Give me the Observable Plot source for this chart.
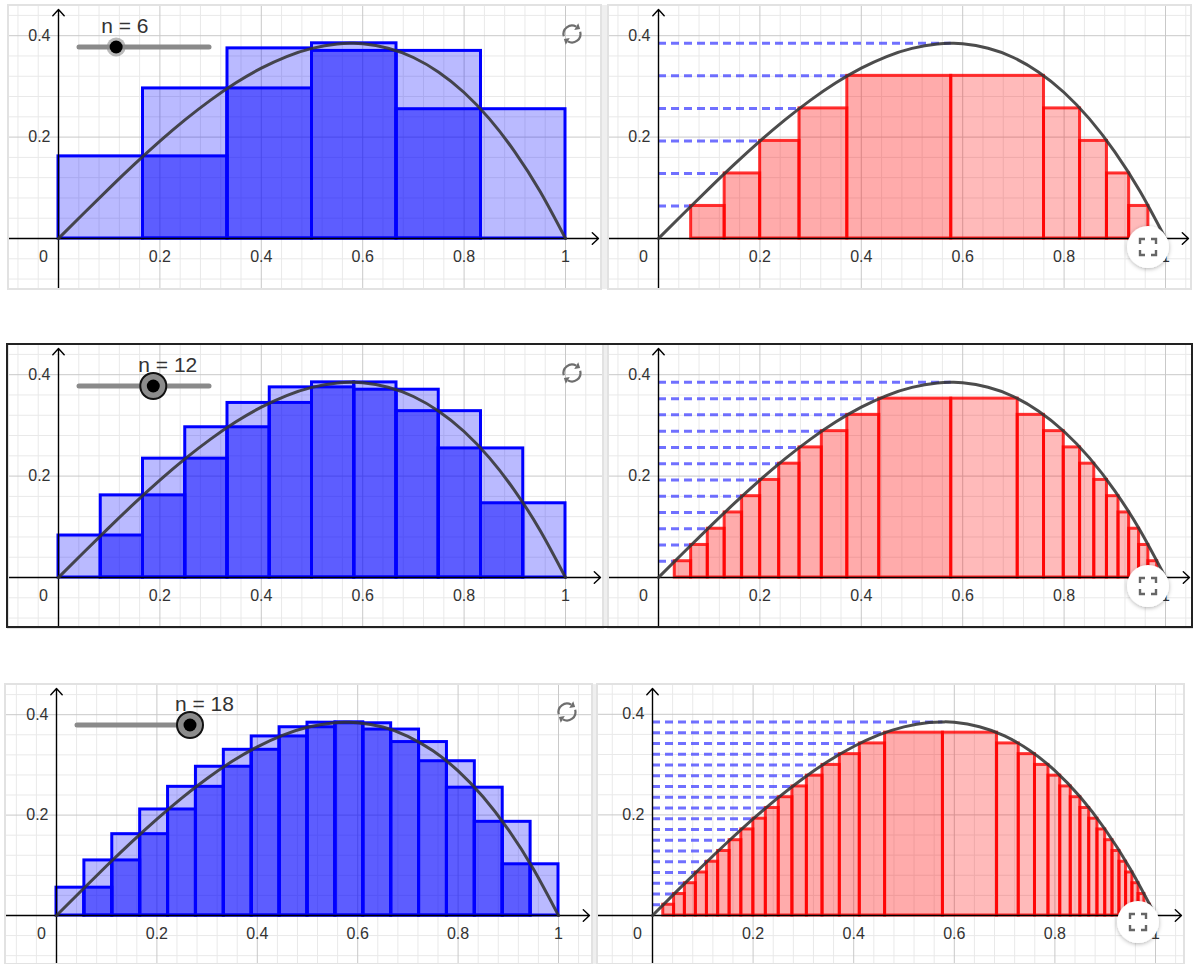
<!DOCTYPE html>
<html><head><meta charset="utf-8">
<script src="https://cdn.jsdelivr.net/npm/d3@7"></script>
<script src="https://cdn.jsdelivr.net/npm/@observablehq/plot@0.6"></script>
<style>
body{margin:0;background:#fff;font-family:"Liberation Sans",Arial,sans-serif;}
#root{position:relative;width:1195px;height:964px;overflow:hidden;background:#fff;}
.panel{position:absolute;overflow:hidden;background:#fff;outline:2px solid #e2e2e2;outline-offset:-1px;}
.panel svg{display:block;}
.sep{position:absolute;background:#efefef;border-left:1px solid #dcdcdc;border-right:1px solid #dcdcdc;box-sizing:border-box;}
#overlay{position:absolute;left:0;top:0;pointer-events:none;}
</style></head><body><div id="root"></div>
<script>
// ---------------- data ----------------
const nValues = [6, 12, 18];
const xTickValues = [0.2, 0.4, 0.6, 0.8, 1];
const xTickLabels = ["0.2", "0.4", "0.6", "0.8", "1"];
const yTickValues = [0.2, 0.4];
const yTickLabels = ["0.2", "0.4"];

// f(x) curve
const curveX = [0, 0.05, 0.1, 0.15, 0.2, 0.25, 0.3, 0.35, 0.4, 0.45, 0.5, 0.55, 0.5774, 0.6, 0.65, 0.7, 0.75, 0.8, 0.85, 0.9, 0.95, 1];
const curveY = [0, 0.0499, 0.099, 0.1466, 0.192, 0.2344, 0.273, 0.3071, 0.336, 0.3589, 0.375, 0.3836, 0.3849, 0.384, 0.3754, 0.357, 0.3281, 0.288, 0.2359, 0.171, 0.0926, 0];

// left panels: upper / lower sums over n equal sub-intervals
const upper6 = [0.162, 0.296, 0.375, 0.385, 0.370, 0.255];
const lower6 = [0, 0.162, 0.296, 0.370, 0.255, 0];
const upper12 = [0.0828, 0.1620, 0.2344, 0.2963, 0.3443, 0.375, 0.3849, 0.3848, 0.3704, 0.3281, 0.2546, 0.1464];
const lower12 = [0, 0.0828, 0.1620, 0.2344, 0.2963, 0.3443, 0.375, 0.3704, 0.3281, 0.2546, 0.1464, 0];
const upper18 = [0.0554, 0.1097, 0.1620, 0.2112, 0.2563, 0.2963, 0.3301, 0.3567, 0.375, 0.3841, 0.3849, 0.3829, 0.3704, 0.3455, 0.3073, 0.2546, 0.1866, 0.1020];
const lower18 = [0, 0.0554, 0.1097, 0.1620, 0.2112, 0.2563, 0.2963, 0.3301, 0.3567, 0.375, 0.3829, 0.3704, 0.3455, 0.3073, 0.2546, 0.1866, 0.1020, 0];

// right panels: horizontal levels, and where the curve meets each level (left / right branch)
const levels6 = [0.0642, 0.1283, 0.1925, 0.2566, 0.3208, 0.3849];
const leftEdges6 = [0.0644, 0.1305, 0.2005, 0.2781, 0.3724, 0.5774];
const rightEdges6 = [0.9662, 0.9283, 0.8846, 0.8315, 0.7604, 0.5774];
const levels12 = [0.0321, 0.0642, 0.0962, 0.1283, 0.1604, 0.1925, 0.2245, 0.2566, 0.2887, 0.3208, 0.3528, 0.3849];
const leftEdges12 = [0.0321, 0.0644, 0.0972, 0.1305, 0.1649, 0.2005, 0.2380, 0.2781, 0.3221, 0.3724, 0.4354, 0.5774];
const rightEdges12 = [0.9836, 0.9662, 0.9479, 0.9283, 0.9073, 0.8846, 0.8595, 0.8315, 0.7993, 0.7604, 0.7085, 0.5774];
const levels18 = [0.0214, 0.0428, 0.0642, 0.0855, 0.1069, 0.1283, 0.1497, 0.1711, 0.1925, 0.2138, 0.2352, 0.2566, 0.2780, 0.2994, 0.3208, 0.3421, 0.3635, 0.3849];
const leftEdges18 = [0.0214, 0.0429, 0.0644, 0.0862, 0.1082, 0.1305, 0.1533, 0.1766, 0.2005, 0.2253, 0.2510, 0.2781, 0.3069, 0.3380, 0.3724, 0.4121, 0.4624, 0.5774];
const rightEdges18 = [0.9891, 0.9779, 0.9662, 0.9541, 0.9415, 0.9283, 0.9145, 0.9000, 0.8846, 0.8682, 0.8506, 0.8315, 0.8106, 0.7872, 0.7604, 0.7281, 0.6850, 0.5774];

// ---------------- layout ----------------
const rowsLayout = [
  {top: 5, h: 284, L: {x: 8, w: 593, ox: 50, oy: 233, s: 507}, R: {x: 608, w: 583, ox: 50, oy: 233, s: 507},
   slider: {x1: 79, x2: 209, y: 47, max: 21, big: false}, refresh: [572, 34], full: [1148, 247], sep: [601, 608]},
  {top: 344, h: 284, L: {x: 8, w: 595, ox: 50, oy: 233, s: 507}, R: {x: 608, w: 584, ox: 50, oy: 233, s: 507},
   slider: {x1: 79, x2: 209, y: 386, max: 21, big: true}, refresh: [572, 373], full: [1148, 586], sep: [603, 608]},
  {top: 684, h: 280, L: {x: 5, w: 587, ox: 51, oy: 231, s: 502}, R: {x: 597, w: 587, ox: 55, oy: 231, s: 503},
   slider: {x1: 77, x2: 190, y: 725, max: 18, big: true}, refresh: [567, 712], full: [1138, 922], sep: [592, 597]}
];

const uppers = [upper6, upper12, upper18];
const lowers = [lower6, lower12, lower18];
const levelsAll = [levels6, levels12, levels18];
const leftsAll = [leftEdges6, leftEdges12, leftEdges18];
const rightsAll = [rightEdges6, rightEdges12, rightEdges18];
const curve = curveX.map((x, i) => ({x, y: curveY[i]}));
const FONT = "Liberation Sans, Arial, sans-serif";

function frameMarks(cfg, h) {
  const {w, ox, oy, s} = cfg;
  const xDom = [-ox / s, (w - ox) / s];
  const yDom = [(oy - h) / s, oy / s];
  const step = 0.04;
  const gx = d3.range(Math.ceil(xDom[0] / step), Math.floor(xDom[1] / step) + 1);
  const gy = d3.range(Math.ceil(yDom[0] / step), Math.floor(yDom[1] / step) + 1);
  const minorX = gx.filter(i => i % 5 !== 0).map(i => i * step);
  const majorX = gx.filter(i => i % 5 === 0 && i !== 0).map(i => i * step);
  const minorY = gy.filter(i => i % 5 !== 0).map(i => i * step);
  const majorY = gy.filter(i => i % 5 === 0 && i !== 0).map(i => i * step);
  const grid = [
    Plot.ruleX(minorX, {stroke: "#e9e9e9", strokeWidth: 1}),
    Plot.ruleY(minorY, {stroke: "#e9e9e9", strokeWidth: 1}),
    Plot.ruleX(majorX, {stroke: "#c9c9c9", strokeWidth: 1}),
    Plot.ruleY(majorY, {stroke: "#c9c9c9", strokeWidth: 1})
  ];
  const xEnd = (w - 3 - ox) / s;
  const yEnd = (oy - 4) / s;
  const axes = [
    Plot.arrow([0], {x1: xDom[0], y1: 0, x2: xEnd, y2: 0, stroke: "#000", strokeWidth: 1.4, headLength: 9, headAngle: 85}),
    Plot.arrow([0], {x1: 0, y1: yDom[0], x2: 0, y2: yEnd, stroke: "#000", strokeWidth: 1.4, headLength: 9, headAngle: 85})
  ];
  const labels = [
    Plot.text(xTickValues, {x: d => d, y: 0, text: (d, i) => xTickLabels[i], dy: 18, fontSize: 16, fill: "#333", fontFamily: FONT}),
    Plot.text(yTickValues, {x: 0, y: d => d, text: (d, i) => yTickLabels[i], dx: -8, textAnchor: "end", fontSize: 16, fill: "#333", fontFamily: FONT}),
    Plot.text(["0"], {x: 0, y: 0, text: d => d, dx: -15, dy: 18, fontSize: 16, fill: "#333", fontFamily: FONT})
  ];
  return {xDom, yDom, grid, axes, labels};
}

function curveMark() {
  return Plot.line(curve, {x: "x", y: "y", curve: "natural", stroke: "#333", strokeWidth: 3, strokeOpacity: 0.88});
}

function leftPanel(cfg, h, r) {
  const n = nValues[r];
  const bars = uppers[r].map((u, i) => ({x1: i / n, x2: (i + 1) / n, up: u, lo: lowers[r][i]}));
  const F = frameMarks(cfg, h);
  return Plot.plot({
    width: cfg.w, height: h, margin: 0,
    x: {domain: F.xDom, axis: null}, y: {domain: F.yDom, axis: null},
    style: {background: "transparent", fontFamily: FONT},
    marks: [
      ...F.grid,
      Plot.rect(bars, {x1: "x1", x2: "x2", y1: 0, y2: "up", fill: "#0000ff", fillOpacity: 0.27, stroke: "#0000ff", strokeWidth: 3}),
      Plot.rect(bars, {x1: "x1", x2: "x2", y1: 0, y2: "lo", fill: "#0000ff", fillOpacity: 0.5, stroke: "#0000ff", strokeWidth: 3}),
      ...F.axes,
      curveMark(),
      ...F.labels
    ]
  });
}

function rightPanel(cfg, h, r) {
  const lv = levelsAll[r], L = leftsAll[r], R = rightsAll[r];
  const lefts = [], rights = [];
  for (let k = 0; k < lv.length - 1; k++) {
    lefts.push({x1: L[k], x2: L[k + 1], h: lv[k]});
    rights.push({x1: R[k + 1], x2: R[k], h: lv[k]});
  }
  const dashes = lv.map((y, k) => ({y, x2: L[k]}));
  const F = frameMarks(cfg, h);
  return Plot.plot({
    width: cfg.w, height: h, margin: 0,
    x: {domain: F.xDom, axis: null}, y: {domain: F.yDom, axis: null},
    style: {background: "transparent", fontFamily: FONT},
    marks: [
      ...F.grid,
      Plot.ruleY(dashes, {y: "y", x1: 0, x2: "x2", stroke: "#4040ff", strokeOpacity: 0.75, strokeWidth: 3, strokeDasharray: "8,5"}),
      Plot.rect(lefts, {x1: "x1", x2: "x2", y1: 0, y2: "h", fill: "#ff0000", fillOpacity: 0.33, stroke: "#ff0000", strokeOpacity: 0.8, strokeWidth: 3}),
      Plot.rect(rights, {x1: "x1", x2: "x2", y1: 0, y2: "h", fill: "#ff0000", fillOpacity: 0.27, stroke: "#ff0000", strokeOpacity: 0.8, strokeWidth: 3}),
      ...F.axes,
      curveMark(),
      ...F.labels
    ]
  });
}

const root = document.getElementById("root");

// row 2 black frame
const frame2 = document.createElement("div");
Object.assign(frame2.style, {position: "absolute", left: "6px", top: "343px", width: "1187px", height: "285px", border: "2px solid #222", boxSizing: "border-box"});

rowsLayout.forEach((row, r) => {
  const sep = document.createElement("div");
  sep.className = "sep";
  Object.assign(sep.style, {left: row.sep[0] + "px", top: row.top + "px", width: (row.sep[1] - row.sep[0]) + "px", height: row.h + "px"});
  root.appendChild(sep);
  [["L", leftPanel], ["R", rightPanel]].forEach(([side, fn]) => {
    const cfg = row[side];
    const div = document.createElement("div");
    div.className = "panel";
    Object.assign(div.style, {left: cfg.x + "px", top: row.top + "px", width: cfg.w + "px", height: row.h + "px"});
    div.appendChild(fn(cfg, row.h, r));
    root.appendChild(div);
  });
});
root.appendChild(frame2);

// ---------------- overlay: sliders, icons ----------------
const ov = d3.select(root).append("svg").attr("id", "overlay").attr("width", 1195).attr("height", 964);
const defs = ov.append("defs");
const f = defs.append("filter").attr("id", "sh").attr("x", "-50%").attr("y", "-50%").attr("width", "200%").attr("height", "200%");
f.append("feDropShadow").attr("dx", 0).attr("dy", 1).attr("stdDeviation", 2).attr("flood-color", "#000").attr("flood-opacity", 0.3);

function refreshIcon(cx, cy) {
  const g = ov.append("g").attr("fill", "none").attr("stroke", "#6e6e6e").attr("stroke-width", 2.2);
  const r = 8.5;
  const arc = (a0, a1) => {
    const p = a => [cx + r * Math.cos(a * Math.PI / 180), cy + r * Math.sin(a * Math.PI / 180)];
    const [x0, y0] = p(a0), [x1, y1] = p(a1);
    g.append("path").attr("d", `M${x0},${y0} A${r},${r} 0 0 1 ${x1},${y1}`);
    const t = (a1 + 90) * Math.PI / 180;
    const tx = Math.cos(t), ty = Math.sin(t), nx = Math.cos(a1 * Math.PI / 180), ny = Math.sin(a1 * Math.PI / 180);
    const tip = [x1 + tx * 4.5, y1 + ty * 4.5];
    g.append("path").attr("fill", "#6e6e6e").attr("stroke", "none")
      .attr("d", `M${tip[0]},${tip[1]} L${x1 + nx * 4},${y1 + ny * 4} L${x1 - nx * 4},${y1 - ny * 4} Z`);
  };
  arc(165, 300);
  arc(345, 120);
}

function fullIcon(cx, cy) {
  ov.append("circle").attr("cx", cx).attr("cy", cy).attr("r", 21).attr("fill", "#fff").attr("filter", "url(#sh)");
  const g = ov.append("g").attr("fill", "none").attr("stroke", "#666").attr("stroke-width", 2.4);
  const d = 8, l = 5;
  [[-1, -1], [1, -1], [-1, 1], [1, 1]].forEach(([sx, sy]) => {
    const x = cx + sx * d, y = cy + sy * d;
    g.append("path").attr("d", `M${x},${y - sy * l} L${x},${y} L${x - sx * l},${y}`);
  });
}

rowsLayout.forEach((row, r) => {
  const sl = row.slider;
  const n = nValues[r];
  const sx = d3.scaleLinear().domain([0, sl.max]).range([sl.x1, sl.x2]);
  const kx = sx(n);
  ov.append("line").attr("x1", sl.x1).attr("x2", sl.x2).attr("y1", sl.y).attr("y2", sl.y)
    .attr("stroke", "#8a8a8a").attr("stroke-width", 5).attr("stroke-linecap", "round");
  ov.append("text").attr("x", kx - 15).attr("y", sl.y - 14).attr("font-size", 21).attr("fill", "#333")
    .attr("font-family", FONT).text(`n = ${n}`);
  if (sl.big) {
    ov.append("circle").attr("cx", kx).attr("cy", sl.y).attr("r", 13).attr("fill", "#8c8c8c").attr("stroke", "#111").attr("stroke-width", 2);
    ov.append("circle").attr("cx", kx).attr("cy", sl.y).attr("r", 6.5).attr("fill", "#000");
  } else {
    ov.append("circle").attr("cx", kx).attr("cy", sl.y).attr("r", 9.5).attr("fill", "#8c8c8c").attr("fill-opacity", 0.6);
    ov.append("circle").attr("cx", kx).attr("cy", sl.y).attr("r", 6.5).attr("fill", "#000");
  }
  refreshIcon(row.refresh[0], row.refresh[1]);
  fullIcon(row.full[0], row.full[1]);
});
</script></body></html>
